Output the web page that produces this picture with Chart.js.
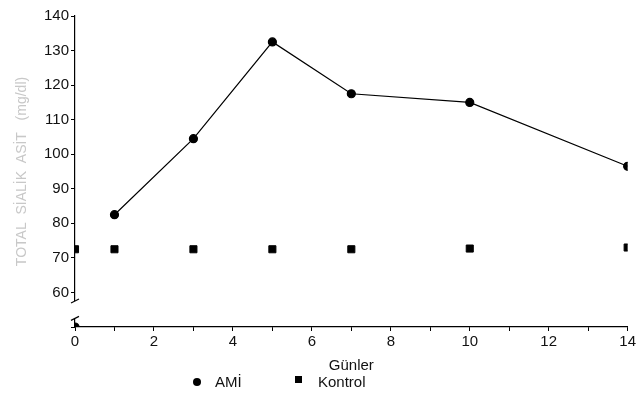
<!DOCTYPE html>
<html>
<head>
<meta charset="utf-8">
<script src="https://cdn.jsdelivr.net/npm/chart.js@4"></script>
<style>
  html, body { margin: 0; padding: 0; background: #fff; }
  #wrap { position: relative; width: 638px; height: 396px; }
  #legend {
    position: absolute; top: 370px; left: 190px;
    font: 15px "Liberation Sans", Arial, sans-serif; color: #111;
  }
  #legend span { position: absolute; white-space: nowrap; }
  .dot { display: inline-block; width: 8px; height: 8px; border-radius: 50%; background: #000; }
  .sq { display: inline-block; width: 7px; height: 7px; background: #000; }
</style>
</head>
<body>
<div id="wrap">
  <canvas id="c" width="638" height="396"></canvas>
  <div id="legend">
    <span style="left:3px;top:2px"><i class="dot"></i></span>
    <span style="left:25px;top:3px">AMİ</span>
    <span style="left:105px;top:-1px"><i class="sq"></i></span>
    <span style="left:128px;top:3px">Kontrol</span>
  </div>
</div>
<script>
// Gün ekseni ve seriler
var amiDays = [0, 1, 3, 5, 7, 10, 14];
var amiValues = [50, 82.5, 104.5, 132.5, 117.5, 115, 96.5];
var kontrolDays = [0, 1, 3, 5, 7, 10, 14];
var kontrolValues = [72.5, 72.5, 72.5, 72.5, 72.5, 72.7, 73];
var yTicks = [60, 70, 80, 90, 100, 110, 120, 130, 140];
var xLabels = [0, 2, 4, 6, 8, 10, 12, 14];

function toPoints(xs, ys) {
  return xs.map(function (x, i) { return { x: x, y: ys[i] }; });
}

// y ekseni kırığı (60 ile orijin arası)
var axisBreak = {
  id: 'axisBreak',
  afterDraw: function (chart) {
    var ctx = chart.ctx, y = chart.scales.y, x0 = chart.chartArea.left;
    var a = y.getPixelForValue(57.5), b = y.getPixelForValue(52.5);
    ctx.save();
    ctx.fillStyle = '#fff';
    ctx.fillRect(x0 - 3, a, 6, b - a);
    ctx.strokeStyle = '#000';
    ctx.lineWidth = 1.2;
    [a, b].forEach(function (p) {
      ctx.beginPath();
      ctx.moveTo(x0 - 4, p + 2);
      ctx.lineTo(x0 + 4, p - 2);
      ctx.stroke();
    });
    ctx.restore();
  }
};

var font = { family: '"Liberation Sans", Arial, sans-serif', size: 15 };

new Chart(document.getElementById('c'), {
  type: 'scatter',
  data: {
    datasets: [{
      label: 'AMİ',
      data: toPoints(amiDays, amiValues),
      showLine: true,
      borderColor: '#000',
      borderWidth: 1.2,
      backgroundColor: '#000',
      pointStyle: 'circle',
      pointRadius: 4,
      segment: {
        borderColor: function (ctx) { return ctx.p0DataIndex === 0 ? 'transparent' : '#000'; }
      }
    }, {
      label: 'Kontrol',
      data: toPoints(kontrolDays, kontrolValues),
      showLine: false,
      borderColor: '#000',
      backgroundColor: '#000',
      pointStyle: 'rect',
      pointRadius: 5
    }]
  },
  options: {
    responsive: false,
    animation: false,
    layout: { padding: { left: 0, right: 8, top: 16, bottom: 21 } },
    plugins: { legend: { display: false }, tooltip: { enabled: false } },
    scales: {
      x: {
        type: 'linear', min: 0, max: 14,
        afterFit: function (s) { s.height = 48; },
        border: { color: '#000', width: 1.2 },
        grid: { drawOnChartArea: false, color: '#000', tickLength: 4 },
        ticks: {
          stepSize: 1, autoSkip: false, maxRotation: 0, color: '#111', font: font, padding: 2,
          callback: function (v) { return xLabels.indexOf(v) >= 0 ? String(v) : ''; }
        },
        title: { display: true, text: 'Günler', color: '#111', font: font, padding: 0 }
      },
      y: {
        min: 50, max: 140,
        afterFit: function (s) { s.width = 75; },
        border: { color: '#000', width: 1.2 },
        grid: { drawOnChartArea: false, color: '#000', tickLength: 4 },
        ticks: {
          stepSize: 10, color: '#111', font: font, padding: 2,
          callback: function (v) { return yTicks.indexOf(v) >= 0 ? String(v) : ''; }
        },
        title: {
          display: true, text: 'TOTAL  SİALİK  ASİT   (mg/dl)', color: '#c8c8c8',
          font: { family: font.family, size: 14 }, padding: { top: 14, bottom: 0 }
        }
      }
    }
  },
  plugins: [axisBreak]
});
</script>
</body>
</html>
